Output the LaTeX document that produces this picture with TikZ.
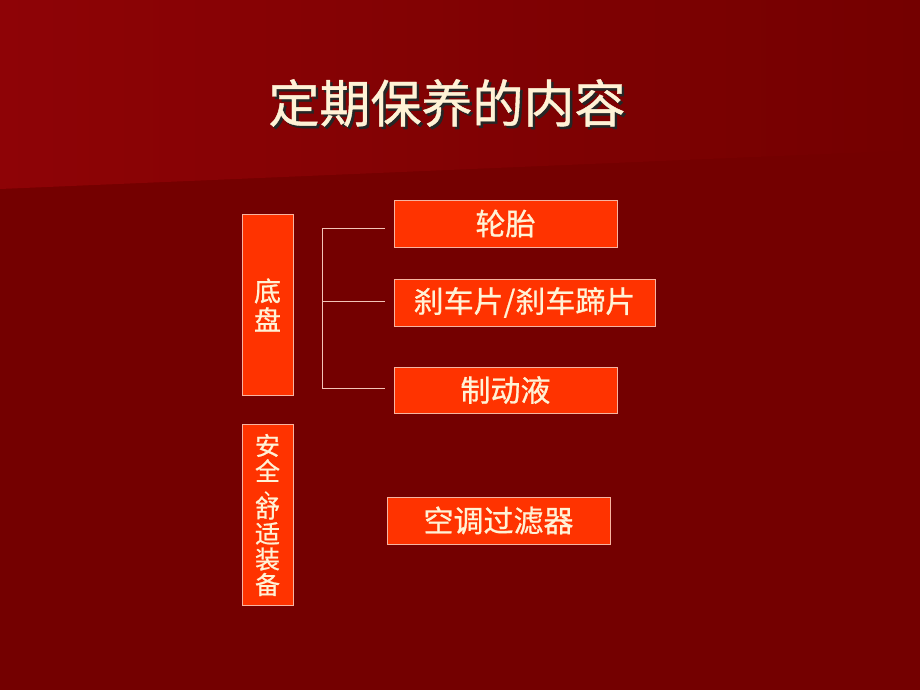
\documentclass[tikz,border=0pt]{standalone}
\usepackage{fontspec}
\newfontfamily\cjk{Noto Sans CJK SC}[FakeBold=0.8]
\definecolor{bgdark}{HTML}{740000}
\definecolor{bglight}{HTML}{8E0306}
\definecolor{boxfill}{HTML}{FF3300}
\definecolor{boxline}{HTML}{F7B4A0}
\definecolor{cream}{HTML}{FFF2D6}
\definecolor{wire}{HTML}{F2C4B8}
\tikzset{
  itembox/.style={draw=boxline, fill=boxfill, line width=0.8pt, inner sep=0pt,
    text=cream, font=\cjk\fontsize{30}{32}\selectfont, minimum height=47pt},
  sidebox/.style={draw=boxline, fill=boxfill, line width=0.8pt, inner sep=0pt,
    text=cream, align=center, minimum width=51pt, minimum height=181pt},
  wireline/.style={draw=wire, line width=1pt}
}
\begin{document}
\begin{tikzpicture}[x=1pt,y=-1pt]
\useasboundingbox (0,0) rectangle (920,690);
\fill[bgdark] (0,0) rectangle (920,690);
\shade[left color=bglight, right color=bgdark, shading angle=90] (0,0) -- (920,0) -- (920,150) -- (0,189) -- cycle;
% title
\node[text=black!85, font=\cjk\fontsize{51}{53}\selectfont] (titleshadow) at (449.5,105.5) {定期保养的内容};
\node[text=cream, font=\cjk\fontsize{51}{53}\selectfont] (title) at (447,103) {定期保养的内容};
% side boxes
\node[sidebox, font=\cjk\fontsize{27}{29}\selectfont] (chassis) at (267.5,305) {底\\盘};
\node[sidebox, font=\cjk\fontsize{25}{25.5}\selectfont] (safety) at (267.5,515)
  {安\\全\\[-11pt]{\fontsize{16}{16}\selectfont\hspace*{9pt}、}\\[-3pt]舒\\适\\装\\备};
% item boxes
\node[itembox, minimum width=223pt] (tire) at (505.5,223.5) {轮胎};
\node[itembox, minimum width=261pt] (brake) at (524.5,302.5) {刹车片/刹车蹄片};
\node[itembox, minimum width=223pt, minimum height=46pt] (fluid) at (505.5,390) {制动液};
\node[itembox, minimum width=223pt] (filter) at (498.5,520.5) {空调过滤器};
% connectors
\coordinate (jt) at (322,228);
\coordinate (jm) at (322,301);
\coordinate (jb) at (322,388);
\coordinate (et) at (385,228);
\coordinate (em) at (385,301);
\coordinate (eb) at (385,388);
\draw[wireline] (et) -- (jt) -- (jb) -- (eb);
\draw[wireline] (jm) -- (em);
\end{tikzpicture}
\end{document}
